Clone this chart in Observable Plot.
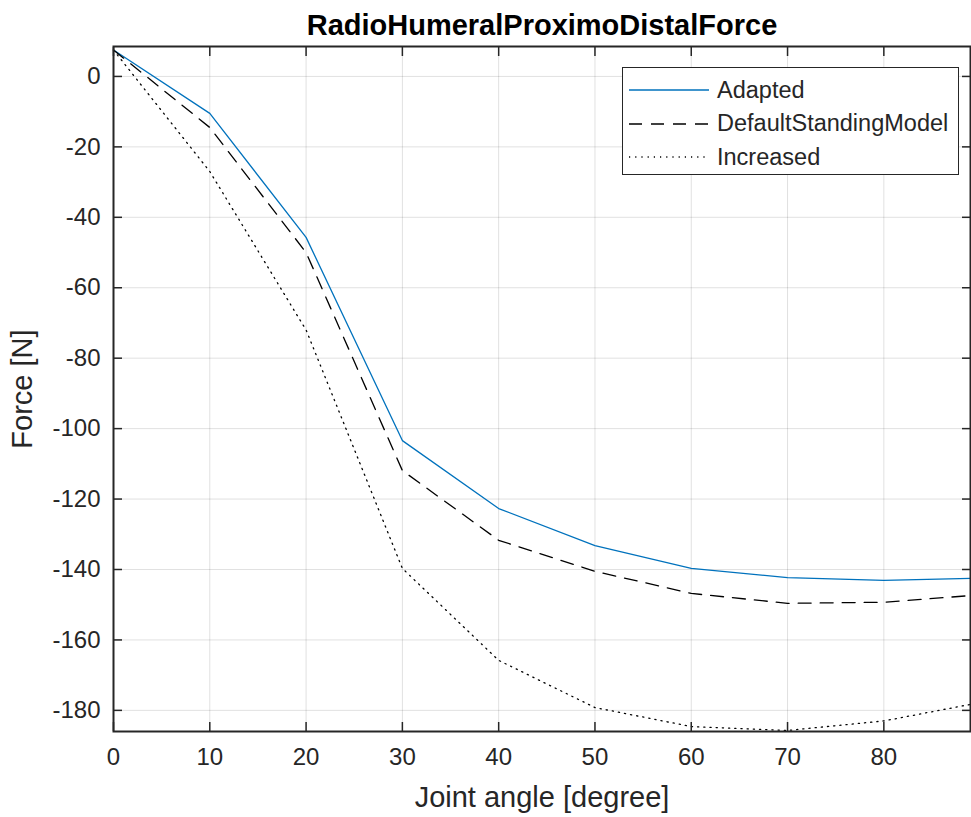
<!DOCTYPE html>
<html>
<head>
<meta charset="utf-8">
<script src="https://cdn.jsdelivr.net/npm/d3@7"></script>
<script src="https://cdn.jsdelivr.net/npm/@observablehq/plot@0.6"></script>
<style>
  html, body { margin: 0; padding: 0; background: #fff; }
  #wrap { position: relative; width: 971px; height: 817px; font-family: "Liberation Sans", Arial, sans-serif; }
  #title { height: 40px; line-height: 50px; padding-left: 113px; width: 858px; text-align: center; font-weight: bold; font-size: 29px; color: #000; overflow: visible; white-space: nowrap; }
  #chart svg { display: block; }
  #legend { position: absolute; left: 622px; top: 67px; width: 335px; height: 106px; border: 1px solid #262626; background: #fff; font-size: 23.5px; color: #262626; }
  #legend .row { position: absolute; left: 6px; height: 30px; display: flex; align-items: center; white-space: nowrap; }
  #legend .row svg { width: 80px; height: 10px; margin-right: 8px; }
</style>
</head>
<body>
<div id="wrap">
  <div id="title"></div>
  <div id="chart"></div>
  <div id="legend"></div>
</div>
<script>
const titleText = "RadioHumeralProximoDistalForce";
const xLabel = "Joint angle [degree]";
const yLabel = "Force [N]";

const angles = [0, 10, 20, 30, 40, 50, 60, 70, 80, 89];
const adapted = [7.5, -10.5, -45.7, -103.4, -122.7, -133.2, -139.7, -142.3, -143.1, -142.5];
const defaultStanding = [7.5, -14.5, -50.0, -111.9, -131.7, -140.5, -146.8, -149.6, -149.3, -147.4];
const increased = [7.5, -27.0, -72.0, -139.7, -165.8, -179.2, -184.6, -185.7, -183.0, -178.3];

const seriesNames = ["Adapted", "DefaultStandingModel", "Increased"];
const seriesValues = [adapted, defaultStanding, increased];
const seriesColors = ["#0072BD", "#000000", "#000000"];
const seriesDash = [null, "13,9", "1.2,5"];

const xTicks = [0, 10, 20, 30, 40, 50, 60, 70, 80];
const yTicks = [0, -20, -40, -60, -80, -100, -120, -140, -160, -180];

document.getElementById("title").textContent = titleText;

const rows = [];
seriesNames.forEach((name, i) => {
  angles.forEach((a, j) => rows.push({series: name, angle: a, force: seriesValues[i][j]}));
});

const axisColor = "#262626";
const font = "\"Liberation Sans\", Arial, sans-serif";

const lineMarks = seriesNames.map((name, i) =>
  Plot.line(rows.filter(r => r.series === name), {
    x: "angle", y: "force",
    stroke: seriesColors[i], strokeWidth: 1.3,
    strokeDasharray: seriesDash[i] ?? undefined
  })
);

const plot = Plot.plot({
  width: 971,
  height: 777,
  marginTop: 6,
  marginLeft: 113,
  marginRight: 1,
  marginBottom: 86,
  style: {fontFamily: font, fontSize: "24px", color: axisColor, background: "#fff"},
  x: {domain: [0, 89], label: null},
  y: {domain: [-186, 8.5], label: null},
  marks: [
    Plot.gridX(xTicks, {stroke: "#000", strokeOpacity: 0.12, strokeWidth: 1}),
    Plot.gridY(yTicks, {stroke: "#000", strokeOpacity: 0.12, strokeWidth: 1}),
    ...lineMarks,
    Plot.axisX(xTicks, {anchor: "bottom", tickSize: 0, tickPadding: 16, fontSize: 24, fill: axisColor, tickFormat: d => String(d)}),
    Plot.axisY(yTicks, {anchor: "left", tickSize: 0, tickPadding: 13, fontSize: 24, fill: axisColor, tickFormat: d => String(d)}),
    Plot.axisX(xTicks, {anchor: "bottom", tickSize: -9, text: null, stroke: axisColor, strokeWidth: 1.5}),
    Plot.axisX(xTicks, {anchor: "top", tickSize: -9, text: null, stroke: axisColor, strokeWidth: 1.5}),
    Plot.axisY(yTicks, {anchor: "left", tickSize: -9, text: null, stroke: axisColor, strokeWidth: 1.5}),
    Plot.axisY(yTicks, {anchor: "right", tickSize: -9, text: null, stroke: axisColor, strokeWidth: 1.5}),
    Plot.frame({stroke: axisColor, strokeWidth: 2}),
    Plot.text([xLabel], {frameAnchor: "bottom", dy: 66, fontSize: 29, fill: axisColor, lineAnchor: "middle", textAnchor: "middle"}),
    Plot.text([yLabel], {frameAnchor: "left", dx: -91, rotate: -90, fontSize: 29, fill: axisColor, lineAnchor: "middle", textAnchor: "middle"})
  ]
});
document.getElementById("chart").appendChild(plot);

const legend = document.getElementById("legend");
seriesNames.forEach((name, i) => {
  const row = document.createElement("div");
  row.className = "row";
  row.style.top = (7 + i * 33.5) + "px";
  const dash = seriesDash[i] ? ` stroke-dasharray="${seriesDash[i]}"` : "";
  row.innerHTML = `<svg viewBox="0 0 80 10"><line x1="0" y1="5" x2="80" y2="5" stroke="${seriesColors[i]}" stroke-width="1.3"${dash}/></svg><span>${name}</span>`;
  legend.appendChild(row);
});
</script>
</body>
</html>
